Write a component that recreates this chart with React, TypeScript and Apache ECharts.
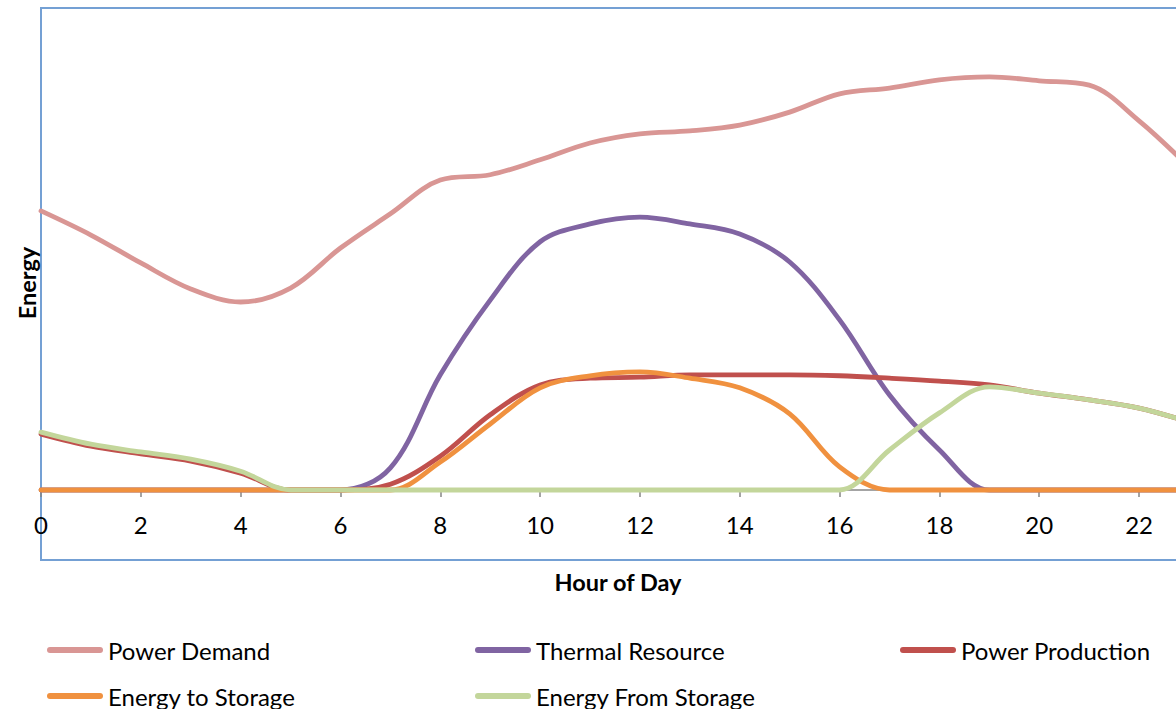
import React, { useEffect, useRef } from "react";
import * as echarts from "echarts";

// Hour of day for each reading
const hours = [0, 1, 2, 3, 4, 5, 6, 7, 8, 9, 10, 11, 12, 13, 14, 15, 16, 17, 18, 19, 20, 21, 22, 23];

// Hourly energy values (arbitrary units)
const powerDemand = [57.9, 52.9, 47.1, 41.7, 39.0, 41.9, 50.2, 57.3, 64.3, 65.4, 68.5, 72.0, 73.9, 74.5, 75.7, 78.4, 82.2, 83.4, 85.1, 85.7, 84.9, 84.0, 76.6, 67.0];
const thermalResource = [0, 0, 0, 0, 0, 0, 0, 4.6, 23.9, 39.4, 51.5, 55.2, 56.6, 55.2, 53.1, 47.3, 35.3, 19.7, 8.3, 0, 0, 0, 0, 0];
const powerProduction = [11.6, 9.1, 7.5, 6.0, 3.5, 0, 0, 1.2, 7.0, 15.6, 21.8, 23.2, 23.4, 23.9, 23.9, 23.9, 23.7, 23.2, 22.6, 21.8, 20.1, 18.7, 17.0, 14.1];
const energyToStorage = [0, 0, 0, 0, 0, 0, 0, 0, 5.8, 13.7, 21.2, 23.7, 24.5, 23.2, 21.2, 15.8, 4.8, 0, 0, 0, 0, 0, 0, 0];
const energyFromStorage = [12.0, 9.5, 7.9, 6.4, 3.9, 0, 0, 0, 0, 0, 0, 0, 0, 0, 0, 0, 0, 8.3, 16.0, 21.4, 20.1, 18.7, 17.0, 14.1];

const xTicks = { min: 0, interval: 2, max: 22.74 };

const seriesDefs = [
  { name: "Power Demand", values: powerDemand, color: "#D99694" },
  { name: "Thermal Resource", values: thermalResource, color: "#8064A2" },
  { name: "Power Production", values: powerProduction, color: "#C0504D" },
  { name: "Energy to Storage", values: energyToStorage, color: "#F0913F" },
  { name: "Energy From Storage", values: energyFromStorage, color: "#C3D69B" },
];

// Legend placement: [name, left, top]
const legendSlots: [string, number, number][] = [
  ["Power Demand", 47, 638],
  ["Thermal Resource", 475, 638],
  ["Power Production", 900, 638],
  ["Energy to Storage", 47, 684],
  ["Energy From Storage", 475, 684],
];

const FONT = "Lato, 'Noto Sans', sans-serif";
const legendIcon = "path://M3,0 H53 A3,3 0 0 1 53,6 H3 A3,3 0 0 1 3,0 Z";

export default function App() {
  const ref = useRef<HTMLDivElement>(null);

  useEffect(() => {
    if (!ref.current) return;
    const chart = echarts.init(ref.current, null, { renderer: "svg" });
    chart.setOption({
      animation: false,
      backgroundColor: "#fff",
      grid: {
        left: 41,
        top: 8,
        right: -2,
        bottom: 219,
        show: false,
        containLabel: false,
      },
      xAxis: {
        type: "value",
        min: xTicks.min,
        max: xTicks.max,
        interval: xTicks.interval,
        axisLine: { show: true, lineStyle: { color: "#868686", width: 1.5 } },
        axisTick: { show: true, length: 7, lineStyle: { color: "#868686", width: 1.5 } },
        axisLabel: {
          showMaxLabel: false,
          margin: 22,
          fontFamily: FONT,
          fontSize: 24,
          color: "#000",
        },
        splitLine: { show: false },
      },
      yAxis: {
        type: "value",
        min: 0,
        max: 100,
        axisLine: { show: false },
        axisTick: { show: false },
        axisLabel: { show: false },
        splitLine: { show: false },
      },
      legend: legendSlots.map(([name, left, top]) => ({
        left,
        top,
        padding: 0,
        itemWidth: 56,
        itemHeight: 6,
        icon: legendIcon,
        selectedMode: false,
        data: [name],
        textStyle: { fontFamily: FONT, fontSize: 24, color: "#000", lineHeight: 24 },
      })),
      graphic: [
        {
          type: "rect",
          z: -1,
          shape: { x: 41, y: 8, width: 1145, height: 552 },
          style: { fill: "none", stroke: "#74A0D4", lineWidth: 2 },
        },
        {
          type: "text",
          x: 618,
          y: 582,
          style: {
            text: "Hour of Day",
            fontFamily: FONT,
            fontSize: 23.5,
            fontWeight: "bold",
            fill: "#000",
            align: "center",
            verticalAlign: "middle",
          },
        },
        {
          type: "text",
          x: 27,
          y: 283,
          rotation: Math.PI / 2,
          style: {
            text: "Energy",
            fontFamily: FONT,
            fontSize: 23.5,
            fontWeight: "bold",
            fill: "#000",
            align: "center",
            verticalAlign: "middle",
          },
        },
      ],
      series: seriesDefs.map((s) => ({
        name: s.name,
        type: "line",
        color: s.color,
        smooth: 0.35,
        symbol: "none",
        clip: false,
        lineStyle: { width: 4.8, color: s.color, cap: "round", join: "round" },
        data: hours.map((h, i) => [h, s.values[i]]),
      })),
    });
    return () => chart.dispose();
  }, []);

  return (
    <div
      ref={ref}
      style={{ position: "fixed", left: 0, top: 0, width: 1176, height: 709 }}
    />
  );
}
